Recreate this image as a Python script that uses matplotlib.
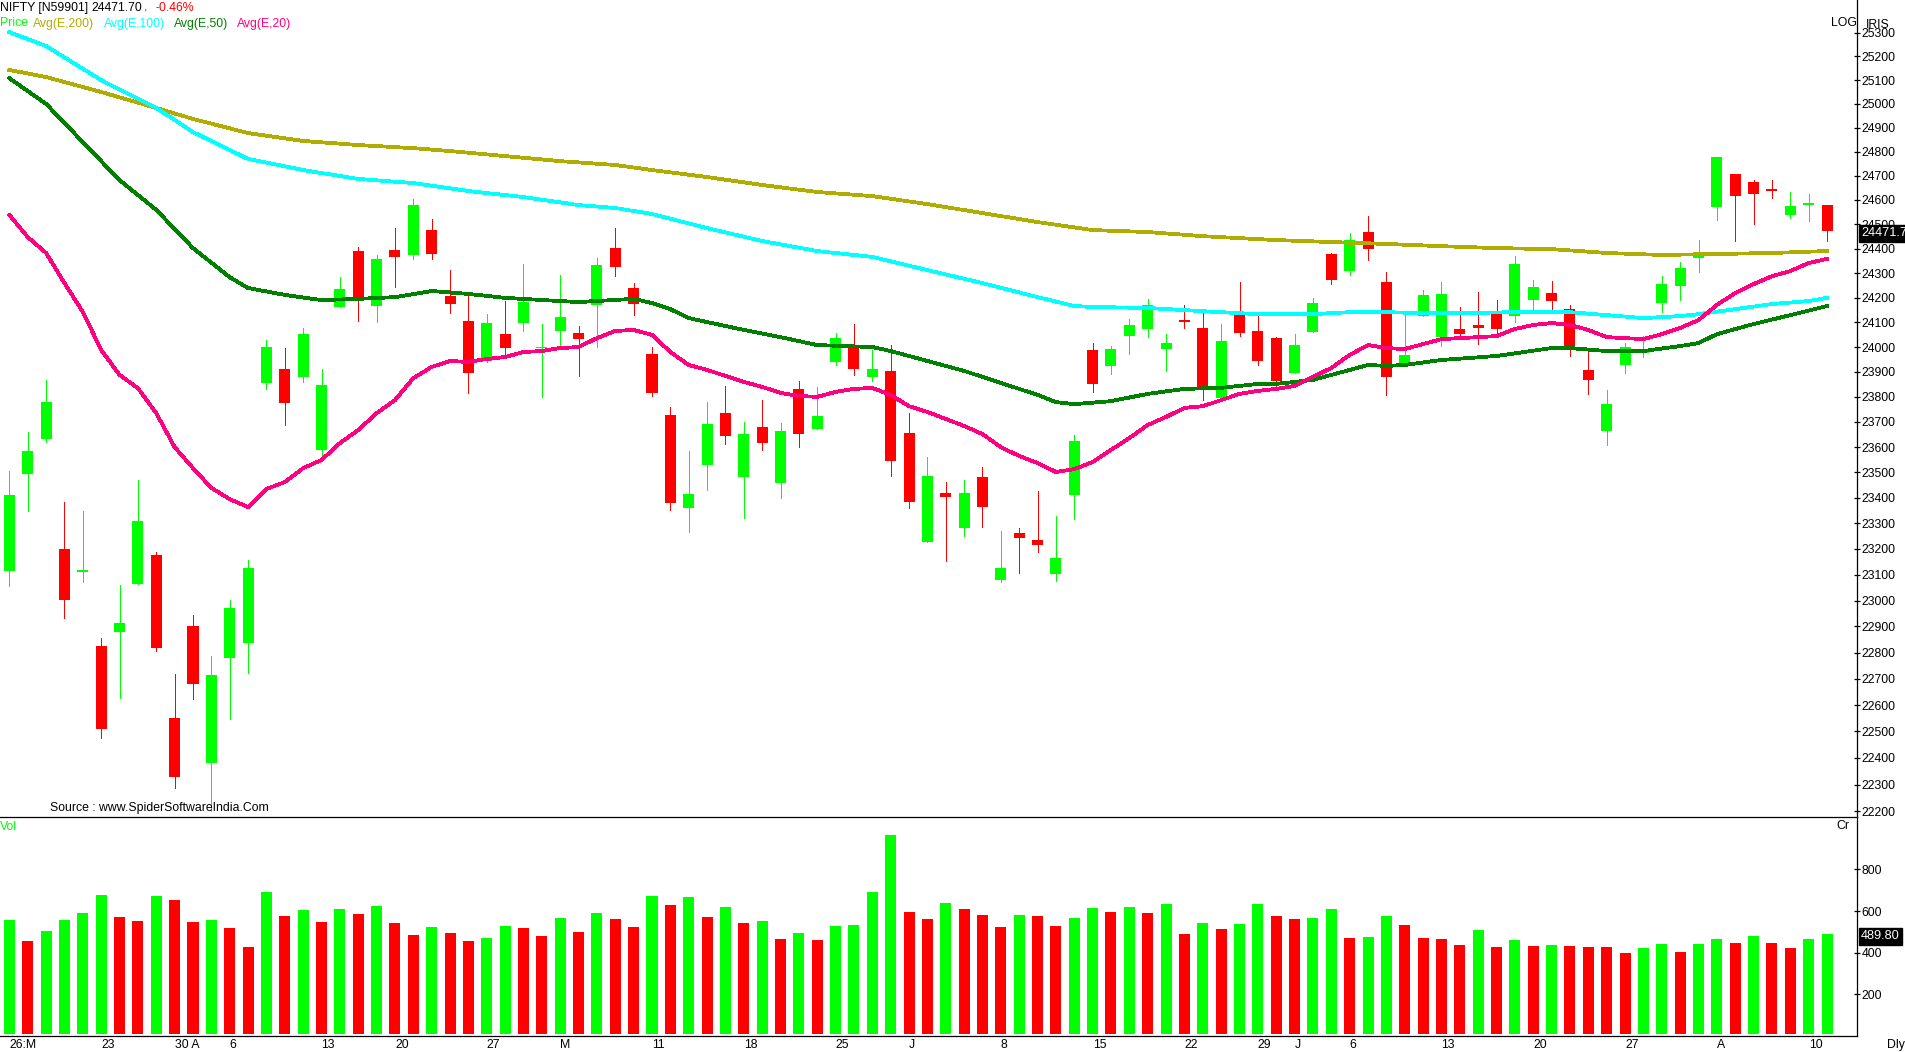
import numpy as np
import matplotlib
matplotlib.use('Agg')
import matplotlib.pyplot as plt
from matplotlib.ticker import FixedLocator, NullLocator, FixedFormatter

# daily candles
HIGH = [23505, 23660, 23868, 23384, 23348, 22857, 23060, 23469, 23188, 22719,
        22945, 22787, 23002, 23157, 24028, 23996, 24077, 23912, 24283, 24406,
        24374, 24485, 24604, 24521, 24312, 24207, 24133, 24186, 24336, 24093,
        24291, 24085, 24362, 24485, 24259, 24000, 23760, 23585, 23779, 23844,
        23700, 23787, 23696, 23864, 23840, 24056, 24093, 23988, 24008, 23736,
        23561, 23462, 23470, 23521, 23271, 23282, 23427, 23328, 23648, 24016,
        24004, 24113, 24195, 24052, 24170, 24137, 24093, 24263, 24125, 24040,
        24052, 24199, 24382, 24464, 24534, 24304, 24129, 24231, 24263, 24162,
        24223, 24190, 24370, 24271, 24267, 24170, 23988, 23828, 24016, 24044,
        24287, 24345, 24435, 24778, 24707, 24682, 24682, 24633, 24624, 24579]
LOW = [23055, 23348, 23620, 22933, 23073, 22476, 22627, 23064, 22806, 22289,
       22623, 22200, 22547, 22722, 23832, 23688, 23860, 23557, 24162, 24105,
       24102, 24243, 24358, 24358, 24137, 23816, 23940, 23960, 24065, 23800,
       24008, 23884, 24000, 24287, 24129, 23804, 23352, 23267, 23431, 23612,
       23320, 23589, 23399, 23600, 23672, 23928, 23888, 23864, 23486, 23360,
       23228, 23153, 23251, 23286, 23072, 23107, 23188, 23076, 23317, 23820,
       23892, 23972, 24040, 23904, 24077, 23787, 23795, 24044, 23928, 23828,
       23896, 24060, 24255, 24291, 24353, 23808, 23924, 24125, 24004, 24036,
       24012, 24052, 24101, 24141, 24141, 23964, 23812, 23608, 23896, 23960,
       24141, 24190, 24304, 24517, 24430, 24500, 24608, 24525, 24513, 24430]
OPEN = [23115, 23494, 23632, 23200, 23112, 22825, 22879, 23064, 23177, 22551,
        22902, 22382, 22780, 22837, 23856, 23912, 23880, 23589, 24162, 24390,
        24166, 24394, 24374, 24476, 24207, 24105, 23944, 24052, 24097, 23998,
        24065, 24056, 24170, 24402, 24239, 23972, 23728, 23360, 23529, 23736,
        23482, 23680, 23458, 23832, 23672, 23940, 23996, 23880, 23904, 23656,
        23228, 23419, 23282, 23482, 23079, 23262, 23235, 23103, 23411, 23988,
        23924, 24044, 24073, 23992, 24109, 24077, 23795, 24129, 24065, 24036,
        23896, 24060, 24378, 24308, 24468, 24263, 23924, 24125, 24040, 24073,
        24089, 24145, 24125, 24190, 24219, 24153, 23908, 23664, 23928, 23976,
        24178, 24247, 24362, 24571, 24707, 24674, 24645, 24537, 24579, 24579]
CLOSE = [23410, 23585, 23779, 23002, 23118, 22511, 22914, 23309, 22817, 22330,
         22680, 22715, 22972, 23126, 24000, 23776, 24052, 23848, 24235, 24195,
         24358, 24366, 24580, 24378, 24174, 23896, 24097, 23996, 24182, 24002,
         24121, 24032, 24332, 24324, 24174, 23816, 23380, 23415, 23692, 23644,
         23652, 23616, 23664, 23652, 23724, 24036, 23912, 23912, 23545, 23384,
         23486, 23403, 23419, 23364, 23126, 23243, 23216, 23165, 23624, 23852,
         23992, 24089, 24170, 24016, 24101, 23836, 24024, 24056, 23944, 23864,
         24008, 24178, 24271, 24435, 24398, 23880, 23968, 24211, 24215, 24052,
         24077, 24073, 24336, 24243, 24186, 23996, 23868, 23771, 24000, 23988,
         24255, 24320, 24386, 24778, 24616, 24624, 24637, 24575, 24587, 24471.7]

E200_IDX = [0, 2, 5, 8, 10, 13, 16, 19, 22, 24, 27, 30, 33, 35, 38, 41, 44, 47, 50, 53,
            56, 59, 62, 65, 68, 69, 72, 75, 78, 81, 84, 87, 90, 93, 96, 99]
E200 = [25143, 25113, 25050, 24983, 24937, 24878, 24845, 24828, 24815, 24803,
        24782, 24761, 24745, 24724, 24695, 24662, 24633, 24616, 24583, 24546,
        24509, 24476, 24468, 24451, 24439, 24435, 24427, 24419, 24410, 24402,
        24398, 24382, 24374, 24378, 24382, 24390]
E100_IDX = [0, 2, 5, 8, 10, 13, 16, 19, 22, 25, 28, 31, 33, 35, 38, 41, 44, 47, 50, 53,
            56, 58, 59, 62, 65, 68, 71, 73, 75, 77, 79, 82, 85, 87, 89, 91, 92, 94, 96, 98, 99]
E100 = [25303, 25244, 25100, 24983, 24882, 24770, 24724, 24687, 24670, 24637,
        24612, 24579, 24567, 24542, 24484, 24431, 24390, 24366, 24312, 24259,
        24202, 24166, 24162, 24158, 24145, 24133, 24133, 24141, 24141, 24137,
        24137, 24141, 24141, 24129, 24117, 24125, 24133, 24153, 24174, 24186, 24199]
E50_IDX = [0, 2, 4, 6, 8, 10, 12, 13, 15, 17, 19, 21, 23, 25, 27, 30, 31, 34, 35, 36, 37,
           40, 42, 44, 47, 48, 50, 52, 54, 56, 57, 58, 60, 62, 64, 66, 68, 69, 71, 73, 74,
           75, 76, 78, 81, 84, 85, 87, 89, 91, 92, 93, 95, 97, 99]
E50 = [25108, 25000, 24840, 24682, 24559, 24402, 24283, 24239, 24211, 24190, 24195,
       24202, 24227, 24215, 24199, 24186, 24182, 24195, 24178, 24153, 24117,
       24069, 24040, 24008, 24000, 23984, 23944, 23904, 23856, 23808, 23779,
       23771, 23783, 23812, 23832, 23836, 23852, 23852, 23868, 23908, 23928,
       23924, 23928, 23948, 23964, 23996, 23996, 23984, 23984, 24004, 24016,
       24052, 24093, 24129, 24166]
E20 = [24538, 24447, 24382, 24259, 24142, 23988, 23888, 23835, 23735, 23600,
       23517, 23439, 23395, 23364, 23435, 23462, 23517, 23549, 23616, 23668,
       23735, 23787, 23875, 23920, 23944, 23940, 23952, 23960, 23980, 23984,
       23996, 24000, 24036, 24065, 24069, 24049, 23980, 23928, 23908, 23884,
       23860, 23840, 23816, 23804, 23800, 23820, 23832, 23836, 23808, 23763,
       23740, 23712, 23684, 23652, 23600, 23565, 23537, 23502, 23513, 23541,
       23589, 23636, 23688, 23720, 23756, 23763, 23787, 23812, 23824, 23832,
       23844, 23880, 23916, 23968, 24008, 23996, 23992, 24012, 24032, 24036,
       24040, 24044, 24073, 24089, 24097, 24089, 24069, 24040, 24036, 24032,
       24052, 24077, 24109, 24170, 24219, 24255, 24287, 24308, 24341, 24358]

VOLUME = [557, 456, 504, 557, 590, 677, 571, 552, 672, 653,
          547, 557, 518, 427, 691, 576, 605, 547, 610, 585,
          624, 542, 484, 523, 494, 456, 470, 528, 518, 480,
          566, 499, 590, 561, 523, 672, 629, 667, 571, 619,
          542, 552, 465, 494, 460, 528, 533, 691, 966, 595,
          561, 638, 610, 581, 523, 581, 576, 528, 566, 614,
          595, 619, 590, 634, 489, 542, 513, 537, 634, 576,
          561, 566, 610, 470, 475, 576, 533, 470, 465, 436,
          508, 427, 460, 431, 436, 431, 427, 427, 398, 422,
          441, 403, 441, 465, 446, 480, 446, 422, 465, 489.8]
VOL_UP = 'GRGGGGRRGRRGRRGRGRGRGRRGRRGGRRGRGRR' \
         'GRGRGRGRGRGGGGRRGRRRGRRGGRGRGRGRGGR' \
         'RGGRGGRRRRGRGRGRRRRGGRGGRGRRGG'

PRICE_TICKS = list(range(22200, 25400, 100))
VOL_TICKS = [200, 400, 600, 800]
DATE_IDX = [0, 5, 9, 12, 17, 21, 26, 30, 35, 40, 45, 49, 54, 59, 64, 68, 70, 73, 78, 83, 88, 93, 98]
DATE_LABELS = ['26:M', '23', '30 A', '6', '13', '20', '27', 'M', '11', '18', '25', 'J',
               '8', '15', '22', '29', 'J', '6', '13', '20', '27', 'A', '10']

W, H = 1906, 1052
LIME, RED = '#00FF00', '#FF0000'
OLIVE, CYAN, DKGREEN, PINK = '#B0AC00', '#00FFFF', '#008000', '#FF0080'
plt.rcParams['font.family'] = 'Liberation Sans'
plt.rcParams['font.size'] = 8.8

fig = plt.figure(figsize=(W / 100, H / 100), dpi=100, facecolor='white')
right = 1857.5 / W
split = 1 - 817.3 / H
bottom = 1 - 1036.0 / H
ax = fig.add_axes([0, split, right, 1 - split])
axv = fig.add_axes([0, bottom, right, split - bottom])
# the lower panel must not paint over the separator line
axv.patch.set_visible(False)

x = np.arange(len(CLOSE))
op, cl = np.array(OPEN, dtype=float), np.array(CLOSE, dtype=float)
colors = [LIME if c >= o else RED for o, c in zip(op, cl)]

ax.vlines(x, LOW, HIGH, colors=colors, linewidth=0.72, antialiased=False, zorder=2)
ax.bar(x, cl - op, bottom=op, width=0.6, color=colors, linewidth=0, antialiased=False, zorder=3)
ax.plot(E200_IDX, E200, color=OLIVE, lw=2.0, zorder=4, antialiased=False)
ax.plot(E100_IDX, E100, color=CYAN, lw=2.0, zorder=5, antialiased=False)
ax.plot(E50_IDX, E50, color=DKGREEN, lw=2.0, zorder=6, antialiased=False)
ax.plot(x, E20, color=PINK, lw=2.0, zorder=7, antialiased=False)

ax.set_yscale('log')
ax.set_xlim(-0.512, 100.66)
ax.set_ylim(22178, 25440)
ax.yaxis.tick_right()
ax.yaxis.set_major_locator(FixedLocator(PRICE_TICKS))
ax.yaxis.set_major_formatter(FixedFormatter([str(t) for t in PRICE_TICKS]))
ax.yaxis.set_minor_locator(NullLocator())
ax.set_xticks([])
ax.tick_params(axis='y', direction='inout', length=4, width=0.9, pad=1)

vol_colors = [LIME if c == 'G' else RED for c in VOL_UP]
vol = np.array(VOLUME, dtype=float)
axv.bar(x, vol - 8, bottom=8, width=0.6, color=vol_colors, linewidth=0, antialiased=False)
axv.set_xlim(-0.512, 100.66)
axv.set_ylim(0, 1050)
axv.yaxis.tick_right()
axv.set_yticks(VOL_TICKS)
axv.set_xticks(DATE_IDX)
axv.set_xticklabels(DATE_LABELS, ha='left')
axv.set_xticks([0], minor=True)
axv.tick_params(axis='y', direction='inout', length=4, width=0.9, pad=1)
axv.tick_params(axis='x', which='major', length=0, pad=2)
axv.tick_params(axis='x', which='minor', length=2, width=0.9)

for a in (ax, axv):
    a.spines['left'].set_visible(False)
    a.spines['top'].set_visible(False)
    for s in a.spines.values():
        s.set_linewidth(0.9)


def label(px, py, s, color='black', **kw):
    kw.setdefault('va', 'center')
    return fig.text(px / W, 1 - py / H, s, color=color, **kw)


label(0, 8, 'NIFTY [N59901]')
label(91.5, 8, '24471.70')
label(144, 8, ',', color=RED)
label(156, 8, '-0.46%', color=RED)
label(0, 23.5, 'Price', color=LIME)
label(33, 23.5, 'Avg(E,200)', color=OLIVE)
label(104, 23.5, 'Avg(E,100)', color=CYAN)
label(173.5, 23.5, 'Avg(E,50)', color=DKGREEN)
label(236.7, 23.5, 'Avg(E,20)', color=PINK)
label(50, 808, 'Source : www.SpiderSoftwareIndia.Com')
label(0, 826.7, 'Vol', color=LIME)
label(1836, 826, 'Cr')
label(1831, 23, 'LOG')
label(1887, 1045, 'Dly')
# IRIS sits behind the top tick label in the reference, only its upper half shows
ax.text(1866 / W / right, 1 - 25 / 817.3, 'IRIS', transform=ax.transAxes, va='center',
        clip_on=False, zorder=1)
for t in ax.yaxis.get_ticklabels():
    if t.get_text() == '25300':
        t.set_bbox(dict(facecolor='white', edgecolor='none', pad=0.5))

box = dict(boxstyle='square,pad=0.18', facecolor='black', edgecolor='black')
ax.annotate('24471.7', xy=(1, CLOSE[-1]), xycoords=ax.get_yaxis_transform(),
            xytext=(2.5, -1.7), textcoords='offset points', color='white', va='center',
            fontsize=9.2, bbox=box, zorder=20, annotation_clip=False)
axv.annotate('489.80', xy=(1, VOLUME[-1]), xycoords=axv.get_yaxis_transform(),
             xytext=(2.5, -1.7), textcoords='offset points', color='white', va='center',
             fontsize=9.2, bbox=box, zorder=20, annotation_clip=False)

fig.savefig('out.png', dpi=100, facecolor='white')
